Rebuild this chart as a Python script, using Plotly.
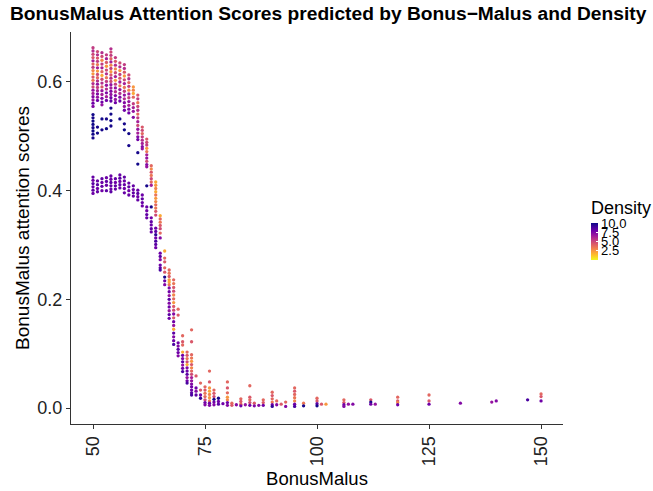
import plotly.graph_objects as go

# BonusMalus value of each column of points
col_bonus_malus = [50, 51, 52, 53, 54, 55, 56, 57, 58, 59, 60, 61, 62, 63, 64, 65, 66, 67, 68, 69, 70,
                   71, 72, 73, 74, 75, 76, 77, 78, 79, 80, 81, 82, 83, 84, 85, 86, 87, 88, 90, 91, 92,
                   93, 95, 97, 100, 101, 102, 106, 107, 108, 112, 113, 118, 125, 132, 139, 140, 147, 150]

# attention scores read per column
col_scores = [
    [0.663, 0.657, 0.651, 0.645, 0.639, 0.633, 0.627, 0.621, 0.615, 0.609, 0.603, 0.597, 0.591, 0.585, 0.579, 0.573, 0.567, 0.561, 0.555,
     0.540, 0.534, 0.528, 0.522, 0.516, 0.510, 0.504, 0.497, 0.425, 0.419, 0.413, 0.407, 0.401, 0.395],
    [0.656, 0.650, 0.644, 0.638, 0.632, 0.626, 0.620, 0.614, 0.608, 0.602, 0.596, 0.590, 0.584, 0.578, 0.572, 0.566,
     0.517, 0.506, 0.418, 0.411, 0.404, 0.398],
    [0.654, 0.647, 0.640, 0.633, 0.626, 0.619, 0.612, 0.605, 0.598, 0.591, 0.584, 0.577, 0.570, 0.563, 0.558,
     0.532, 0.512, 0.422, 0.415, 0.408, 0.400],
    [0.650, 0.643, 0.636, 0.629, 0.622, 0.615, 0.608, 0.601, 0.594, 0.587, 0.580, 0.573, 0.566,
     0.532, 0.514, 0.424, 0.417, 0.410, 0.400],
    [0.661, 0.655, 0.649, 0.643, 0.637, 0.631, 0.625, 0.619, 0.613, 0.607, 0.601, 0.595, 0.589, 0.583, 0.577, 0.571, 0.565,
     0.552, 0.541, 0.529, 0.519, 0.427, 0.421, 0.415, 0.409, 0.403, 0.398],
    [0.645, 0.638, 0.631, 0.624, 0.617, 0.610, 0.603, 0.596, 0.589, 0.582, 0.575, 0.568, 0.562,
     0.422, 0.415, 0.409, 0.403],
    [0.635, 0.628, 0.621, 0.614, 0.607, 0.600, 0.593, 0.586, 0.579, 0.572, 0.565,
     0.532, 0.429, 0.423, 0.417, 0.411, 0.405],
    [0.632, 0.625, 0.618, 0.611, 0.604, 0.597, 0.590, 0.583, 0.576, 0.569, 0.562, 0.555, 0.548,
     0.523, 0.512, 0.425, 0.418, 0.411, 0.404, 0.396],
    [0.613, 0.606, 0.599, 0.592, 0.585, 0.578, 0.571, 0.564, 0.557, 0.550, 0.543,
     0.505, 0.483, 0.414, 0.407, 0.400, 0.392],
    [0.591, 0.585, 0.579, 0.572, 0.560, 0.553, 0.546, 0.535, 0.409, 0.402, 0.396, 0.390],
    [0.576, 0.569, 0.562, 0.555, 0.548, 0.541, 0.534, 0.527, 0.520, 0.513, 0.506, 0.499, 0.494,
     0.470, 0.449, 0.401, 0.395, 0.389, 0.383],
    [0.517, 0.511, 0.505, 0.499, 0.493, 0.487, 0.481, 0.477, 0.392, 0.385, 0.378, 0.372],
    [0.495, 0.489, 0.484, 0.478, 0.472, 0.466, 0.460, 0.454, 0.448, 0.444, 0.409, 0.370, 0.363, 0.356, 0.350],
    [0.446, 0.440, 0.434, 0.428, 0.422, 0.416, 0.410, 0.370, 0.350, 0.343, 0.337, 0.330, 0.324],
    [0.416, 0.410, 0.404, 0.398, 0.392, 0.386, 0.380, 0.374, 0.368, 0.362, 0.355,
     0.331, 0.325, 0.319, 0.313, 0.307, 0.301, 0.295],
    [0.354, 0.348, 0.342, 0.336, 0.330, 0.322, 0.313, 0.285, 0.279, 0.273, 0.263, 0.258, 0.254],
    [0.289, 0.276, 0.269, 0.258, 0.250, 0.241, 0.234, 0.227],
    [0.254, 0.248, 0.242, 0.236, 0.232, 0.227, 0.221, 0.214, 0.207, 0.200, 0.193, 0.186, 0.179, 0.172, 0.165],
    [0.236, 0.229, 0.222, 0.215, 0.208, 0.201, 0.194, 0.187, 0.180, 0.173, 0.166, 0.159, 0.152, 0.145, 0.138, 0.131, 0.124, 0.117],
    [0.182, 0.171, 0.120, 0.114, 0.108, 0.102, 0.096],
    [0.133, 0.122, 0.116, 0.103, 0.097, 0.091, 0.085, 0.079, 0.073, 0.067],
    [0.103, 0.097, 0.091, 0.085, 0.080, 0.074, 0.068, 0.062, 0.056, 0.050, 0.046],
    [0.144, 0.122, 0.098, 0.092, 0.086, 0.080, 0.074, 0.068, 0.062, 0.056, 0.050, 0.044, 0.039, 0.033, 0.028, 0.024],
    [0.059, 0.037, 0.031, 0.024],
    [0.046, 0.033, 0.024, 0.018],
    [0.039, 0.033, 0.027, 0.021, 0.015, 0.010, 0.006],
    [0.068, 0.048, 0.037, 0.031, 0.025, 0.019, 0.013, 0.009, 0.005],
    [0.033, 0.027, 0.021, 0.016, 0.011, 0.006],
    [0.018, 0.012, 0.007],
    [0.008],
    [0.048, 0.037, 0.028, 0.020, 0.015, 0.010, 0.005],
    [0.009, 0.005],
    [0.006],
    [0.017, 0.012, 0.007, 0.004],
    [0.006],
    [0.041, 0.020, 0.015, 0.010, 0.005],
    [0.009, 0.004],
    [0.005],
    [0.015, 0.010, 0.005],
    [0.029, 0.023, 0.017, 0.011, 0.006, 0.003],
    [0.013, 0.006],
    [0.007],
    [0.011, 0.003],
    [0.037, 0.031, 0.025, 0.019, 0.013, 0.007, 0.003],
    [0.009, 0.004],
    [0.018, 0.013, 0.008, 0.004],
    [0.007],
    [0.007],
    [0.015, 0.010, 0.006, 0.003],
    [0.007],
    [0.007],
    [0.015, 0.011, 0.007],
    [0.007],
    [0.020, 0.013, 0.010, 0.006],
    [0.024, 0.013, 0.007],
    [0.009],
    [0.011],
    [0.013],
    [0.015],
    [0.026, 0.021, 0.013],
]

# (log) density of each point, same layout as col_scores
col_density = [
    [5.5, 6.0, 5.0, 4.5, 6.5, 4.0, 5.5, 3.0, 2.5, 4.5, 3.5, 6.0, 5.0, 7.0, 6.5, 7.5, 7.0, 8.0, 7.5,
     10.1, 10.0, 10.2, 10.1, 10.0, 10.2, 10.1, 10.0, 8.3, 8.0, 8.5, 8.2, 8.4, 8.1],
    [5.0, 6.0, 4.5, 5.5, 3.5, 6.5, 2.5, 5.0, 4.0, 6.0, 7.0, 5.5, 6.5, 7.5, 7.0, 8.0,
     10.0, 10.1, 8.2, 8.5, 8.0, 8.3],
    [6.0, 5.0, 3.0, 5.5, 6.5, 4.0, 2.0, 5.0, 6.0, 4.5, 7.0, 6.5, 7.5, 8.0, 7.0,
     10.1, 10.0, 8.4, 8.1, 8.3, 8.0],
    [5.5, 6.5, 4.5, 2.5, 5.0, 6.0, 3.5, 5.5, 7.0, 6.0, 7.5, 6.5, 8.0,
     10.0, 10.2, 8.1, 8.4, 8.2, 8.5],
    [6.0, 5.0, 5.5, 4.0, 6.5, 3.0, 5.5, 2.5, 4.5, 6.0, 5.0, 7.0, 6.5, 7.5, 7.0, 8.0, 8.3,
     10.0, 10.1, 10.2, 10.0, 8.2, 8.0, 8.4, 8.3, 8.1, 8.5],
    [5.5, 4.5, 6.0, 3.0, 5.0, 6.5, 2.5, 5.5, 7.0, 6.0, 7.5, 7.0, 8.0,
     8.3, 8.0, 8.4, 8.2],
    [5.0, 6.0, 2.5, 5.5, 4.5, 6.5, 3.5, 7.0, 6.0, 7.5, 8.0,
     10.1, 8.2, 8.5, 8.0, 8.3, 8.1],
    [5.5, 6.0, 4.5, 2.5, 5.0, 6.5, 3.5, 5.5, 7.0, 6.0, 7.5, 7.0, 8.0,
     10.0, 10.2, 8.4, 8.1, 8.3, 8.0, 8.2],
    [5.0, 6.0, 4.0, 5.5, 3.0, 6.5, 5.5, 7.0, 6.5, 7.5, 8.0,
     10.1, 10.0, 8.2, 8.4, 8.0, 8.3],
    [2.5, 3.0, 2.0, 4.0, 5.5, 6.5, 7.0, 7.5, 8.3, 8.1, 8.4, 8.2],
    [4.5, 5.5, 3.5, 5.0, 6.0, 4.0, 5.5, 6.5, 5.0, 7.0, 6.5, 7.5, 8.0,
     10.0, 10.1, 8.2, 8.5, 8.0, 8.3],
    [4.5, 5.0, 4.0, 5.5, 6.0, 6.5, 7.5, 7.0, 8.1, 8.4, 8.2, 8.0],
    [4.5, 5.0, 5.5, 2.5, 3.5, 6.5, 7.0, 5.0, 7.5, 7.0, 10.0, 8.2, 8.0, 8.4, 8.1],
    [4.0, 3.0, 4.5, 3.5, 5.0, 4.0, 6.5, 10.0, 8.0, 8.3, 8.1, 8.4, 8.2],
    [2.0, 2.5, 3.0, 2.0, 3.5, 2.5, 3.0, 4.0, 3.5, 4.5, 5.0,
     8.0, 8.5, 9.5, 8.0, 9.0, 8.5, 8.0],
    [2.0, 4.0, 3.5, 4.5, 5.0, 4.0, 7.5, 8.0, 8.5, 7.5, 8.0, 8.5, 9.0],
    [2.0, 4.0, 4.5, 4.0, 4.5, 10.0, 8.0, 7.5],
    [4.0, 3.5, 4.5, 2.5, 2.0, 3.5, 7.5, 8.0, 7.0, 8.5, 7.5, 8.0, 7.0, 8.5, 8.0],
    [4.0, 3.5, 4.5, 5.0, 3.0, 4.0, 2.5, 4.5, 5.0, 7.5, 4.5, 8.0, 7.0, 2.0, 8.5, 7.5, 8.0, 9.0],
    [4.0, 4.5, 8.0, 7.5, 8.5, 8.0, 7.5],
    [4.0, 4.5, 4.0, 2.0, 8.0, 7.5, 8.5, 7.0, 8.0, 9.0],
    [4.0, 4.5, 3.5, 5.0, 2.0, 7.5, 8.0, 8.5, 7.0, 8.0, 9.0],
    [4.0, 4.5, 4.0, 3.5, 2.5, 4.5, 3.0, 4.0, 5.0, 6.5, 7.0, 7.5, 8.0, 8.0, 8.5, 9.0],
    [4.5, 8.0, 7.5, 8.5],
    [4.0, 4.5, 8.0, 9.5],
    [4.0, 4.5, 3.5, 4.0, 5.0, 8.0, 7.5],
    [4.0, 4.5, 2.5, 2.0, 3.0, 2.5, 3.5, 8.0, 7.5],
    [4.0, 4.5, 5.0, 10.0, 8.0, 7.5],
    [10.0, 8.0, 8.5],
    [8.0],
    [4.0, 4.5, 4.0, 2.5, 3.0, 8.0, 7.5],
    [4.0, 4.5],
    [7.5],
    [4.0, 4.5, 4.0, 8.0],
    [7.0],
    [4.0, 4.5, 4.0, 5.0, 8.0],
    [4.5, 7.5],
    [7.5],
    [4.0, 4.5, 8.0],
    [4.0, 4.5, 4.0, 3.5, 8.0, 9.5],
    [4.0, 7.5],
    [4.5],
    [4.0, 7.5],
    [4.0, 4.5, 4.0, 3.5, 3.0, 8.0, 9.0],
    [3.5, 10.0],
    [4.0, 4.5, 8.5, 10.0],
    [4.5],
    [2.5],
    [4.0, 4.5, 8.0, 7.5],
    [7.0],
    [7.5],
    [4.5, 10.0, 8.0],
    [7.0],
    [4.0, 4.5, 3.0, 8.0],
    [4.0, 4.5, 8.0],
    [7.5],
    [7.0],
    [7.5],
    [9.0],
    [4.0, 4.5, 8.0],
]

x_ticks = [50, 75, 100, 125, 150]
y_ticks = [0.0, 0.2, 0.4, 0.6]
y_tick_labels = ["0.0", "0.2", "0.4", "0.6"]
legend_ticks = [2.5, 5.0, 7.5, 10.0]
legend_tick_labels = ["2.5", "5.0", "7.5", "10.0"]

bonus_malus, scores, density = [], [], []
for bm, ys, ds in zip(col_bonus_malus, col_scores, col_density):
    for yv, dv in zip(ys, ds):
        bonus_malus.append(bm)
        scores.append(yv)
        density.append(dv)

FONT = "Liberation Sans, Arial, sans-serif"

fig = go.Figure(go.Scatter(
    x=bonus_malus, y=scores, mode="markers",
    marker=dict(
        size=3.3, color=density, colorscale="Plasma", reversescale=True,
        cmin=0.0, cmax=10.2, line=dict(width=0),
        colorbar=dict(
            title=dict(text="Density", side="top", font=dict(size=18, color="#000", family=FONT)),
            thickness=7, lenmode="pixels", len=62,
            x=1.057, xanchor="left", xpad=0, y=0.4185, yanchor="bottom", ypad=0,
            tickvals=legend_ticks, ticktext=legend_tick_labels,
            ticks="inside", ticklen=2, tickcolor="white",
            tickfont=dict(size=13, color="#000", family=FONT),
            outlinewidth=0,
        ),
    ),
    showlegend=False,
))

fig.update_layout(
    width=653, height=491,
    margin=dict(l=71, r=90, t=32, b=67, autoexpand=False),
    paper_bgcolor="white", plot_bgcolor="white",
    font=dict(family=FONT, color="#000"),
    title=dict(text="<b>BonusMalus Attention Scores predicted by Bonus\u2212Malus and Density</b>",
               x=0.0, xanchor="left", xref="container", pad=dict(l=10, t=0, r=0, b=0),
               y=1 - 13 / 491, yanchor="middle", yref="container",
               font=dict(size=19.2, color="#000", family=FONT)),
)

fig.update_xaxes(
    range=[45.09, 154.9], tickvals=x_ticks, ticktext=[str(v) for v in x_ticks],
    tickangle=-90, ticks="outside", ticklen=4, tickcolor="#333", tickwidth=1,
    showline=True, linecolor="#333", linewidth=1.2, showgrid=False, zeroline=False,
    tickfont=dict(size=18, color="#222"), automargin=False,
    title=dict(text="BonusMalus", font=dict(size=18.5, color="#000"), standoff=6),
)
fig.update_yaxes(
    range=[-0.0294, 0.692], tickvals=y_ticks, ticktext=y_tick_labels,
    ticks="outside", ticklen=4, tickcolor="#333", tickwidth=1,
    showline=True, linecolor="#333", linewidth=1.2, showgrid=False, zeroline=False,
    tickfont=dict(size=18, color="#222"), automargin=False,
    title=dict(text="BonusMalus attention scores", font=dict(size=19, color="#000"), standoff=2),
)

fig.write_html("out.html", config={"displayModeBar": False},
               post_script="document.body.style.margin='0px';")
